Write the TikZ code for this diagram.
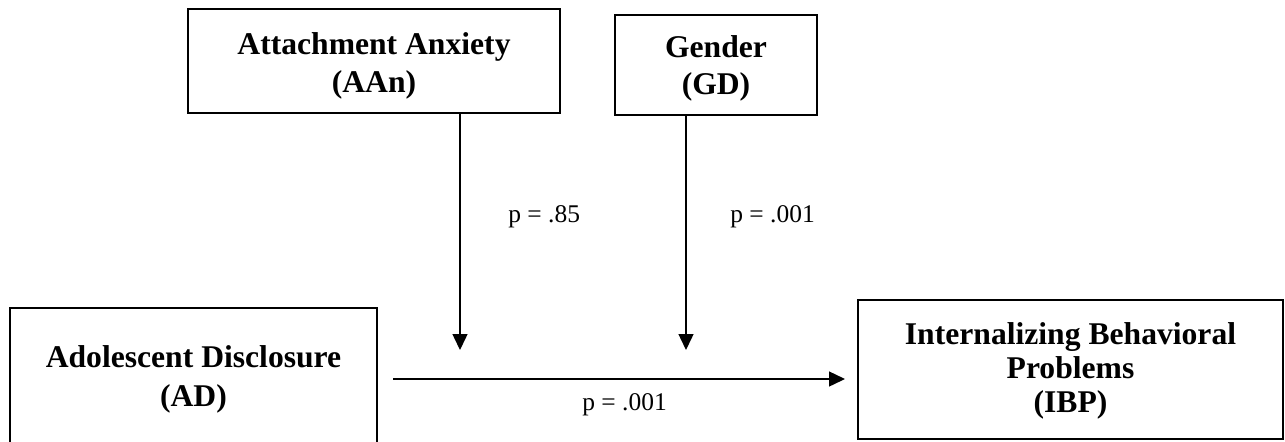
\documentclass[tikz,border=0pt]{standalone}
\usepackage{fontspec}
\setmainfont{Liberation Serif}
\usetikzlibrary{arrows.meta}
\begin{document}
\begin{tikzpicture}[x=0.02cm,y=-0.02cm,
  box/.style={draw=black, line width=1.5pt, inner sep=0pt},
  boxtext/.style={align=center, inner sep=0pt,
    font=\fontsize{18}{#1}\selectfont\bfseries},
  conn/.style={draw=black, line width=0.8pt, -{Triangle[width=0.3cm,length=0.32cm]}},
  plabel/.style={inner sep=0pt, anchor=base west, font=\fontsize{14.5}{17}\selectfont}]
\useasboundingbox (0,0) rectangle (1285,441);
\clip (0,0) rectangle (1285,441);
\node[box, minimum width=7.44cm, minimum height=2.08cm] (AAn) at (374,61) {};
\node[boxtext=21.6] (AAnT) at (374,66) {Attachment Anxiety\\(AAn)};
\node[box, minimum width=4.04cm, minimum height=2.0cm] (GD) at (716,65) {};
\node[boxtext=21] (GDT) at (716,68.5) {Gender\\(GD)};
\node[box, minimum width=7.34cm, minimum height=2.96cm] (AD) at (193.5,382) {};
\node[boxtext=22] (ADT) at (193.5,379.5) {Adolescent Disclosure\\(AD)};
\node[box, minimum width=8.5cm, minimum height=2.78cm] (IBP) at (1070.5,369.5) {};
\node[boxtext=19.3] (IBPT) at (1070.5,371.2) {Internalizing Behavioral\\Problems\\(IBP)};
\coordinate (m1) at (460,350);
\coordinate (m2) at (686,350);
\coordinate (hs) at (393,379);
\coordinate (he) at (845,379);
\draw[conn] (AAn.south -| m1) -- (m1);
\draw[conn] (GD.south -| m2) -- (m2);
\draw[conn] (hs) -- (he);
\node[plabel] (p1) at (508,222) {p = .85};
\node[plabel] (p2) at (730,222) {p = .001};
\node[plabel] (p3) at (582,410) {p = .001};
\end{tikzpicture}
\end{document}
